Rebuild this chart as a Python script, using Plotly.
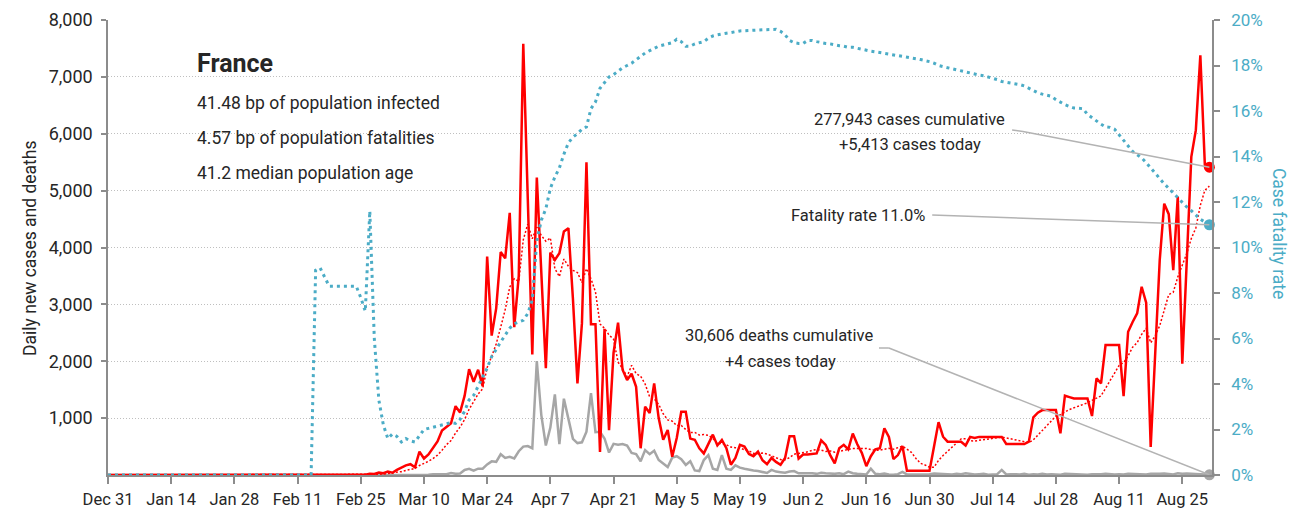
import pandas as pd
import plotly.graph_objects as go

FONT = "Roboto, Liberation Sans, Arial, sans-serif"
RED = "#ff0000"
GREY = "#a6a6a6"
TEAL = "#4bacc6"
AXIS = "#8c8c8c"
TEXT = "#262626"

start = pd.Timestamp("2019-12-31")

# daily new cases, one list per month (Dec 31 first)
cases_dec = [0]
cases_jan = [0, 0, 0, 0, 0, 0, 0, 0, 0, 0,
             0, 0, 0, 0, 0, 0, 0, 0, 0, 0,
             0, 0, 0, 0, 3, 0, 0, 0, 1, 0, 1]
cases_feb = [1, 0, 0, 0, 0, 0, 0, 0, 5, 0,
             0, 0, 0, 0, 1, 0, 0, 0, 0, 0,
             0, 0, 0, 0, 2, 4, 20, 19, 43]
cases_mar = [30, 60, 40, 90, 130, 170, 190, 135, 410, 290,
             360, 470, 590, 780, 840, 910, 1210, 1100, 1390, 1860,
             1640, 1850, 1560, 3840, 2450, 2930, 3920, 3810, 4610, 2600, 3500]
cases_apr = [7580, 4860, 2120, 5230, 3600, 1880, 3910, 3780, 3900, 4280,
             4340, 3100, 1610, 2670, 5500, 2650, 2650, 405, 2570, 790,
             2150, 2680, 1850, 1670, 1780, 1550, 470, 1200, 1090, 1610]
cases_may = [1000, 620, 790, 320, 650, 1110, 1110, 640, 620, 470,
             380, 560, 710, 520, 615, 470, 180, 300, 530, 500,
             370, 330, 410, 260, 190, 300, 230, 180, 300, 680, 680]
cases_jun = [290, 360, 360, 370, 380, 610, 530, 350, 205, 470,
             530, 450, 730, 540, 390, 155, 330, 450, 470, 820,
             670, 280, 350, 510, 75, 75, 75, 75, 75, 75]
cases_jul = [500, 930, 673, 586, 586, 586, 586, 520, 670, 650,
             670, 670, 670, 670, 670, 670, 545, 545, 545, 545,
             545, 586, 1013, 1095, 1142, 1142, 1142, 1142, 732, 1394, 1370]
cases_aug = [1347, 1347, 1347, 1347, 1037, 1698, 1611, 2285, 2285, 2285,
             2285, 1388, 2519, 2690, 2841, 3310, 3029, 493, 2238, 3776,
             4771, 4586, 3602, 4897, 1955, 3700, 5594, 6063, 7379, 5453, 5413]

# daily new deaths
deaths_dec = [0]
deaths_jan = [0, 0, 0, 0, 0, 0, 0, 0, 0, 0,
              0, 0, 0, 0, 0, 0, 0, 0, 0, 0,
              0, 0, 0, 0, 0, 0, 0, 0, 0, 0, 0]
deaths_feb = [0, 0, 0, 0, 0, 0, 0, 0, 0, 0,
              0, 0, 0, 0, 1, 0, 0, 0, 0, 0,
              0, 0, 0, 0, 0, 1, 0, 0, 0]
deaths_mar = [0, 1, 1, 1, 0, 3, 2, 7, 3, 11,
              3, 15, 13, 18, 12, 36, 21, 27, 89, 108,
              78, 112, 112, 186, 240, 231, 365, 299, 319, 292, 418]
deaths_apr = [499, 509, 471, 2004, 1053, 518, 833, 1417, 541, 1341,
              987, 635, 561, 574, 762, 1438, 753, 761, 642, 395,
              547, 531, 544, 516, 389, 369, 242, 437, 367, 427]
deaths_may = [264, 200, 140, 306, 330, 278, 178, 243, 80, 70,
              263, 348, 110, 90, 350, 110, 90, 170, 130, 110,
              90, 80, 70, 50, 35, 90, 60, 50, 40, 60, 70]
deaths_jun = [30, 30, 40, 30, 20, 40, 30, 25, 20, 30,
              15, 60, 30, 20, 15, 10, 110, 20, 15, 25,
              10, 5, 15, 55, 10, 10, 15, 5, 10, 15]
deaths_jul = [25, 20, 10, 15, 10, 20, 15, 30, 15, 10,
              15, 20, 5, 10, 15, 90, 10, 15, 10, 10,
              20, 5, 15, 10, 20, 10, 15, 10, 5, 20, 15]
deaths_aug = [10, 15, 10, 5, 15, 10, 15, 20, 10, 10,
              15, 10, 20, 15, 10, 15, 10, 20, 15, 20,
              25, 15, 10, 30, 20, 25, 20, 15, 20, 10, 4]

# case fatality rate, percent
cfr_dec = [0]
cfr_jan = [0, 0, 0, 0, 0, 0, 0, 0, 0, 0,
           0, 0, 0, 0, 0, 0, 0, 0, 0, 0,
           0, 0, 0, 0, 0, 0, 0, 0, 0, 0, 0]
cfr_feb = [0, 0, 0, 0, 0, 0, 0, 0, 0, 0,
           0, 0, 0, 0, 9.0, 9.1, 8.7, 8.3, 8.3, 8.3,
           8.3, 8.3, 8.3, 8.3, 7.8, 7.2, 11.6, 6.0, 3.3]
cfr_mar = [2.2, 1.6, 1.8, 1.7, 1.45, 1.6, 1.5, 1.45, 1.7, 2.0,
           2.05, 2.1, 2.15, 2.2, 2.25, 2.3, 2.27, 2.45, 2.8, 3.3,
           3.5, 3.9, 4.25, 4.7, 5.2, 5.55, 5.85, 6.15, 6.45, 6.65, 6.74]
cfr_apr = [6.8, 7.1, 7.7, 10.3, 11.2, 11.7, 12.6, 13.1, 13.5, 14.1,
           14.6, 14.85, 15.0, 15.2, 15.3, 16.1, 16.4, 17.0, 17.25, 17.5,
           17.6, 17.75, 17.9, 18.0, 18.1, 18.25, 18.4, 18.55, 18.65, 18.75]
cfr_may = [18.85, 18.9, 18.95, 19.0, 19.15, 19.05, 18.85, 18.85, 18.95, 19.0,
           19.05, 19.2, 19.3, 19.35, 19.4, 19.42, 19.45, 19.5, 19.52, 19.53,
           19.55, 19.55, 19.56, 19.57, 19.57, 19.58, 19.59, 19.5, 19.35, 19.1, 19.0]
cfr_jun = [18.97, 18.97, 19.1, 19.1, 19.05, 19.0, 18.97, 18.95, 18.9, 18.87,
           18.85, 18.8, 18.8, 18.75, 18.7, 18.67, 18.63, 18.6, 18.57, 18.53,
           18.5, 18.46, 18.42, 18.39, 18.36, 18.33, 18.3, 18.26, 18.22, 18.17]
cfr_jul = [18.1, 18.0, 17.95, 17.9, 17.86, 17.82, 17.78, 17.7, 17.65, 17.62,
           17.58, 17.55, 17.5, 17.45, 17.38, 17.3, 17.27, 17.23, 17.2, 17.16,
           17.1, 17.0, 16.88, 16.8, 16.74, 16.7, 16.65, 16.5, 16.38, 16.28, 16.2]
cfr_aug = [16.13, 16.12, 16.1, 15.85, 15.7, 15.58, 15.42, 15.3, 15.28, 15.2,
           14.95, 14.72, 14.48, 14.22, 14.08, 13.94, 13.73, 13.5, 13.25, 13.0,
           12.8, 12.6, 12.4, 12.18, 11.97, 11.78, 11.62, 11.42, 11.24, 11.12, 11.0]

cases = (cases_dec + cases_jan + cases_feb + cases_mar + cases_apr
         + cases_may + cases_jun + cases_jul + cases_aug)
deaths = (deaths_dec + deaths_jan + deaths_feb + deaths_mar + deaths_apr
          + deaths_may + deaths_jun + deaths_jul + deaths_aug)
cfr = (cfr_dec + cfr_jan + cfr_feb + cfr_mar + cfr_apr
       + cfr_may + cfr_jun + cfr_jul + cfr_aug)

dates = pd.date_range(start, periods=len(cases), freq="D")
cases_ma = pd.Series(cases).rolling(7, min_periods=1).mean()


def day(n):
    return start + pd.Timedelta(days=n)


fig = go.Figure()
fig.add_trace(go.Scatter(x=dates, y=deaths, mode="lines",
                         line=dict(color=GREY, width=2.5)))
fig.add_trace(go.Scatter(x=dates, y=cases, mode="lines",
                         line=dict(color=RED, width=2.5)))
fig.add_trace(go.Scatter(x=dates, y=cases_ma, mode="lines",
                         line=dict(color=RED, width=1.5, dash="2px,2px")))
fig.add_trace(go.Scatter(x=dates, y=cfr, mode="lines", yaxis="y2",
                         line=dict(color=TEAL, width=3, dash="3px,4px")))

# end-point markers
fig.add_trace(go.Scatter(x=[dates[-1]], y=[cases[-1]], mode="markers", cliponaxis=False,
                         marker=dict(color=RED, size=11)))
fig.add_trace(go.Scatter(x=[dates[-1]], y=[deaths[-1]], mode="markers", cliponaxis=False,
                         marker=dict(color=GREY, size=11)))
fig.add_trace(go.Scatter(x=[dates[-1]], y=[cfr[-1]], mode="markers", cliponaxis=False,
                         yaxis="y2", marker=dict(color=TEAL, size=11)))

# leader lines
lead = dict(color="#b3b3b3", width=1.5)
shapes = [
    dict(type="line", xref="x", yref="y", x0=day(200.3), y0=6066, x1=day(202.7), y1=6040, line=lead),
    dict(type="line", xref="x", yref="y", x0=day(202.7), y0=6040, x1=dates[-1], y1=cases[-1], line=lead),
    dict(type="line", xref="x", yref="y2", x0=day(182.6), y0=11.43, x1=dates[-1], y1=cfr[-1], line=lead),
    dict(type="line", xref="x", yref="y", x0=day(170.8), y0=2233, x1=day(173.0), y1=2233, line=lead),
    dict(type="line", xref="x", yref="y", x0=day(173.0), y0=2233, x1=dates[-1], y1=deaths[-1], line=lead),
]

annotations = [
    dict(text="<b>France</b>", x=0.0788, y=0.905, font=dict(size=25)),
    dict(text="41.48 bp of population infected", x=0.0788, y=0.8176),
    dict(text="4.57 bp of population fatalities", x=0.0788, y=0.7407),
    dict(text="41.2 median population age", x=0.0788, y=0.6637),
]
for a in annotations:
    a.update(xanchor="left")
    a.setdefault("font", dict(size=17.5))

annotations += [
    dict(text="277,943 cases cumulative", x=0.7264, y=0.7824, font=dict(size=16.5)),
    dict(text="+5,413 cases today", x=0.7264, y=0.7253, font=dict(size=16.5)),
    dict(text="Fatality rate 11.0%", x=0.679, y=0.5714, font=dict(size=16.5)),
    dict(text="30,606 deaths cumulative", x=0.6075, y=0.3055, font=dict(size=16.5)),
    dict(text="+4 cases today", x=0.6095, y=0.2505, font=dict(size=16.5)),
    dict(text="Daily new cases and deaths", x=-0.0707, y=0.499, textangle=-90,
         font=dict(size=17.5)),
    dict(text="Case fatality rate", x=1.0607, y=0.532, textangle=90,
         font=dict(size=17.5, color=TEAL)),
]
for a in annotations:
    a.setdefault("xanchor", "center")
    a.update(xref="paper", yref="paper", yanchor="middle", showarrow=False)

fig.update_layout(
    template="none",
    width=1307, height=518,
    margin=dict(l=108, r=95, t=20, b=43),
    plot_bgcolor="white", paper_bgcolor="white",
    showlegend=False,
    hovermode=False,
    font=dict(family=FONT, size=17.5, color=TEXT),
    shapes=shapes,
    annotations=annotations,
    xaxis=dict(
        type="date", range=[start, pd.Timestamp("2020-08-31 14:00")],
        tick0="2019-12-31", dtick=14 * 86400000, tickformat="%b %-d",
        ticks="outside", ticklen=7, tickcolor=AXIS, tickwidth=1.5,
        showline=True, linecolor=AXIS, linewidth=1.5,
        showgrid=False, zeroline=False, automargin=False,
        tickfont=dict(size=16.5), ticklabelstandoff=1,
    ),
    yaxis=dict(
        range=[0, 8000], tickvals=list(range(1000, 8001, 1000)), tickformat=",",
        ticks="outside", ticklen=5, tickcolor=AXIS, tickwidth=1.5,
        showline=True, linecolor=AXIS, linewidth=1.5,
        showgrid=True, gridcolor="#bfbfbf", gridwidth=1, griddash="1px,2px",
        zeroline=False, automargin=False, tickfont=dict(size=18), ticklabelstandoff=5,
    ),
    yaxis2=dict(
        overlaying="y", side="right", range=[0, 20], dtick=2, ticksuffix="%",
        ticks="outside", ticklen=6, tickcolor=AXIS, tickwidth=1.5,
        showline=True, linecolor=AXIS, linewidth=1.5,
        showgrid=False, zeroline=False, automargin=False,
        tickfont=dict(size=17, color=TEAL), ticklabelstandoff=8,
    ),
)

fig.write_html("out.html", config={"displayModeBar": False},
               post_script="document.body.style.margin='0';")
